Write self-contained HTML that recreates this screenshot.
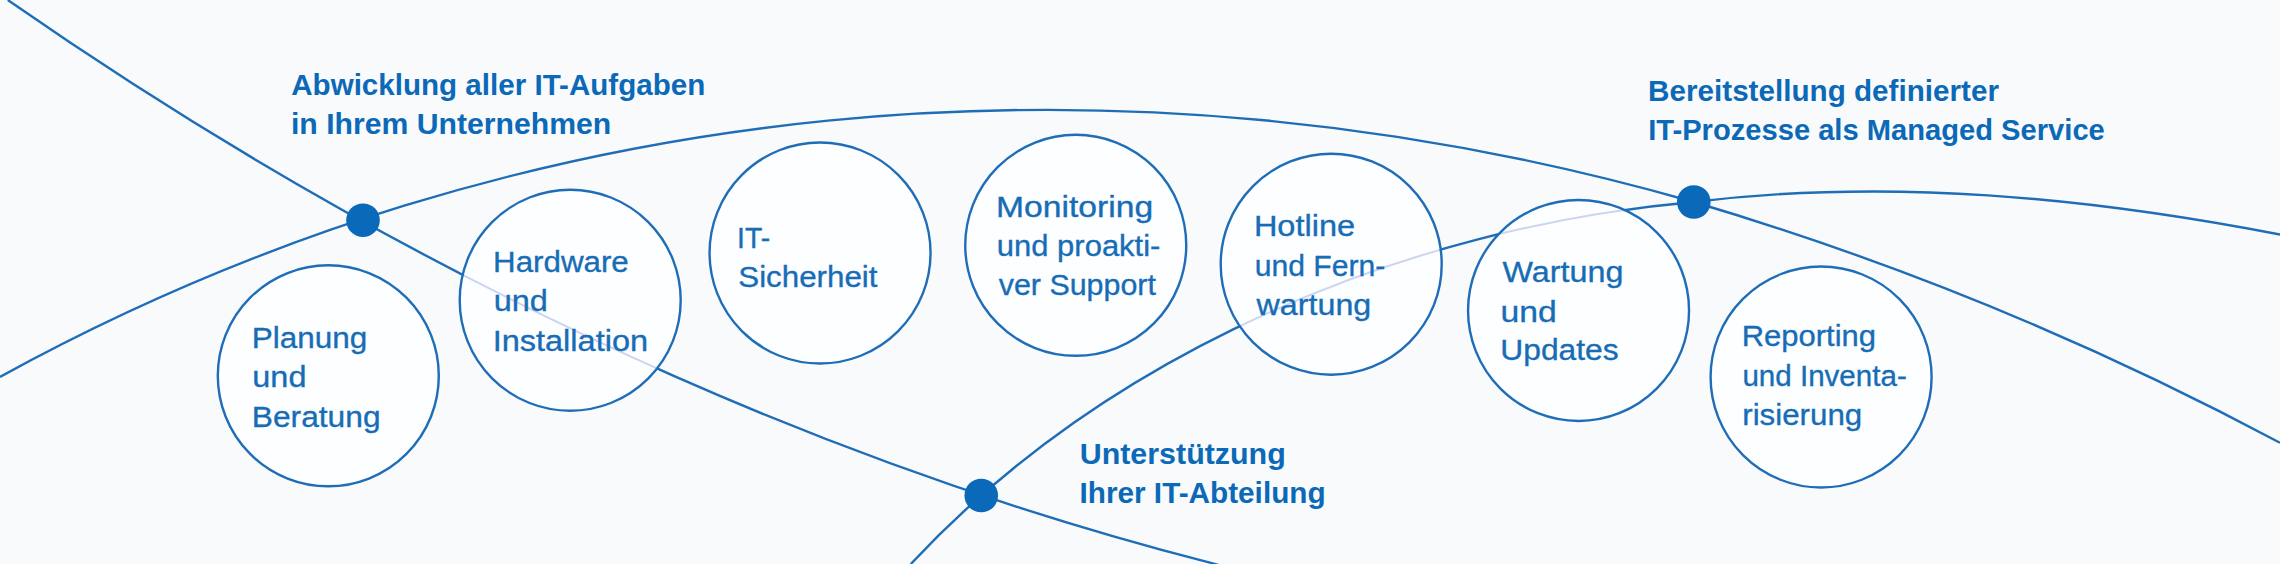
<!DOCTYPE html>
<html><head><meta charset="utf-8">
<style>
html,body{margin:0;padding:0;background:#f8fafc;}
body{width:2280px;height:564px;overflow:hidden;position:relative;}
svg{position:absolute;left:0;top:0;}
text{font-family:"Liberation Sans",sans-serif;}
.h{font-weight:bold;font-size:30px;fill:#0b69b7;}
.c{font-size:30px;fill:#176cb6;stroke:#176cb6;stroke-width:0.35px;}
</style></head><body>
<svg width="2280" height="564" viewBox="0 0 2280 564">
<g fill="none" stroke="#1e6db6" stroke-width="2.4">
<path d="M7.8,0 C372.3,253.5 779.2,452.1 1209.9,562.7 L1240,570.7"/>
<path d="M910.8,564 C1109.8,350.9 1405.8,227.5 1693.8,202 C1889.1,178 2087.6,197.4 2280,234.5"/>
<path d="M0,376.9 C521.4,90.5 1121.9,38.3 1693.8,202 C1896.8,262.2 2093.2,343 2280,442.8"/>
</g>
<defs><clipPath id="cc"><circle cx="328.3" cy="375.8" r="110.5"/><circle cx="570.2" cy="300.25" r="110.5"/><circle cx="820.05" cy="253" r="110.5"/><circle cx="1075.75" cy="245.3" r="110.5"/><circle cx="1331.2" cy="264.2" r="110.5"/><circle cx="1578.55" cy="310.45" r="110.5"/><circle cx="1821.1" cy="377" r="110.5"/></clipPath></defs>
<g fill="#fdfeff" stroke="none">
<circle cx="328.3" cy="375.8" r="110.5"/>
<circle cx="570.2" cy="300.25" r="110.5"/>
<circle cx="820.05" cy="253" r="110.5"/>
<circle cx="1075.75" cy="245.3" r="110.5"/>
<circle cx="1331.2" cy="264.2" r="110.5"/>
<circle cx="1578.55" cy="310.45" r="110.5"/>
<circle cx="1821.1" cy="377" r="110.5"/>
</g>
<g fill="none" stroke="#ccd5ef" stroke-width="2.0" clip-path="url(#cc)">
<path d="M7.8,0 C372.3,253.5 779.2,452.1 1209.9,562.7 L1240,570.7"/>
<path d="M910.8,564 C1109.8,350.9 1405.8,227.5 1693.8,202 C1889.1,178 2087.6,197.4 2280,234.5"/>
<path d="M0,376.9 C521.4,90.5 1121.9,38.3 1693.8,202 C1896.8,262.2 2093.2,343 2280,442.8"/>
</g>
<g fill="none" stroke="#1e6db6" stroke-width="2.4">
<circle cx="328.3" cy="375.8" r="110.5"/>
<circle cx="570.2" cy="300.25" r="110.5"/>
<circle cx="820.05" cy="253" r="110.5"/>
<circle cx="1075.75" cy="245.3" r="110.5"/>
<circle cx="1331.2" cy="264.2" r="110.5"/>
<circle cx="1578.55" cy="310.45" r="110.5"/>
<circle cx="1821.1" cy="377" r="110.5"/>
</g>
<g fill="#0a69b8">
<circle cx="363" cy="220.2" r="16.8"/>
<circle cx="1693.8" cy="202" r="16.8"/>
<circle cx="981.25" cy="495.5" r="16.8"/>
</g>
<text class="h" transform="translate(291.21,95.1) scale(0.9861,1)">Abwicklung aller IT-Aufgaben</text>
<text class="h" transform="translate(290.99,133.7) scale(1.0064,1)">in Ihrem Unternehmen</text>
<text class="h" transform="translate(1648.12,100.8) scale(0.9884,1)">Bereitstellung definierter</text>
<text class="h" transform="translate(1648.16,139.7) scale(0.9715,1)">IT-Prozesse als Managed Service</text>
<text class="h" transform="translate(1079.67,463.5) scale(1.0140,1)">Unterstützung</text>
<text class="h" transform="translate(1079.52,502.6) scale(0.9914,1)">Ihrer IT-Abteilung</text>
<text class="c" transform="translate(251.78,347.6) scale(1.0492,1)">Planung</text>
<text class="c" transform="translate(252.35,387) scale(1.0801,1)">und</text>
<text class="c" transform="translate(251.76,426.9) scale(1.0580,1)">Beratung</text>
<text class="c" transform="translate(493.09,272.3) scale(1.0435,1)">Hardware</text>
<text class="c" transform="translate(493.64,311) scale(1.0823,1)">und</text>
<text class="c" transform="translate(492.67,350.6) scale(1.0837,1)">Installation</text>
<text class="c" transform="translate(737.05,247.5) scale(0.9450,1)">IT-</text>
<text class="c" transform="translate(738.24,286.6) scale(1.0448,1)">Sicherheit</text>
<text class="c" transform="translate(995.99,217.4) scale(1.1224,1)">Monitoring</text>
<text class="c" transform="translate(996.84,256.1) scale(1.0329,1)">und proakti-</text>
<text class="c" transform="translate(998.70,295.3) scale(1.0142,1)">ver Support</text>
<text class="c" transform="translate(1253.89,236.4) scale(1.0837,1)">Hotline</text>
<text class="c" transform="translate(1254.69,275.6) scale(1.0047,1)">und Fern-</text>
<text class="c" transform="translate(1256.60,314.6) scale(1.0745,1)">wartung</text>
<text class="c" transform="translate(1502.59,281.9) scale(1.0771,1)">Wartung</text>
<text class="c" transform="translate(1500.57,321.5) scale(1.1234,1)">und</text>
<text class="c" transform="translate(1500.26,360.3) scale(1.0600,1)">Updates</text>
<text class="c" transform="translate(1741.72,346.4) scale(1.0326,1)">Reporting</text>
<text class="c" transform="translate(1742.43,386) scale(0.9859,1)">und Inventa-</text>
<text class="c" transform="translate(1742.21,424.5) scale(1.0432,1)">risierung</text>
</svg>
</body></html>
